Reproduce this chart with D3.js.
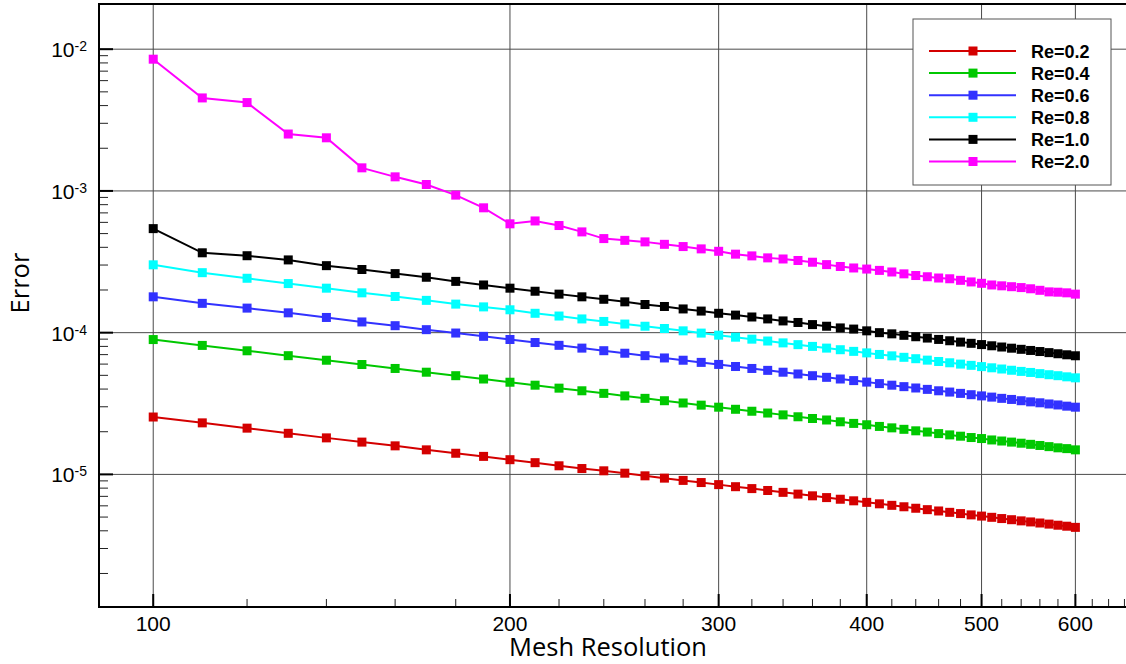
<!DOCTYPE html>
<html>
<head>
<meta charset="UTF-8">
<script src="https://d3js.org/d3.v7.min.js"></script>
<title>Error vs Mesh Resolution</title>
<style>
  body { margin: 0; background: #fff; }
  text { font-family: "Liberation Sans", Arial, sans-serif; }
</style>
</head>
<body>
<div id="container"></div>
<script>
// data
var meshSizes = [100,110,120,130,140,150,160,170,180,190,200,210,220,230,240,250,260,270,280,290,300,
  310,320,330,340,350,360,370,380,390,400,410,420,430,440,450,460,470,480,490,500,
  510,520,530,540,550,560,570,580,590,600];

var seriesNames = ["Re=0.2","Re=0.4","Re=0.6","Re=0.8","Re=1.0","Re=2.0"];
var seriesColors = ["#d40000","#00c800","#3232ff","#00ffff","#000000","#ff00ff"];

var errRe02 = [2.54e-5,2.31e-5,2.12e-5,1.95e-5,1.81e-5,1.69e-5,1.59e-5,1.49e-5,1.41e-5,1.34e-5,1.27e-5,
  1.21e-5,1.15e-5,1.10e-5,1.06e-5,1.02e-5,9.77e-6,9.41e-6,9.07e-6,8.76e-6,8.47e-6,
  8.19e-6,7.94e-6,7.70e-6,7.47e-6,7.26e-6,7.06e-6,6.86e-6,6.68e-6,6.51e-6,6.35e-6,
  6.20e-6,6.05e-6,5.91e-6,5.77e-6,5.64e-6,5.52e-6,5.40e-6,5.29e-6,5.18e-6,5.08e-6,
  4.98e-6,4.88e-6,4.79e-6,4.70e-6,4.62e-6,4.54e-6,4.46e-6,4.38e-6,4.31e-6,4.23e-6];
var errRe04 = [8.94e-5,8.13e-5,7.45e-5,6.88e-5,6.39e-5,5.96e-5,5.59e-5,5.26e-5,4.97e-5,4.71e-5,4.47e-5,
  4.26e-5,4.06e-5,3.89e-5,3.73e-5,3.58e-5,3.44e-5,3.31e-5,3.19e-5,3.08e-5,2.98e-5,
  2.88e-5,2.79e-5,2.71e-5,2.63e-5,2.55e-5,2.48e-5,2.42e-5,2.35e-5,2.29e-5,2.24e-5,
  2.18e-5,2.13e-5,2.08e-5,2.03e-5,1.99e-5,1.94e-5,1.90e-5,1.86e-5,1.82e-5,1.79e-5,
  1.75e-5,1.72e-5,1.69e-5,1.66e-5,1.63e-5,1.60e-5,1.57e-5,1.54e-5,1.52e-5,1.49e-5];
var errRe06 = [1.79e-4,1.61e-4,1.49e-4,1.38e-4,1.28e-4,1.19e-4,1.12e-4,1.05e-4,9.94e-5,9.42e-5,8.95e-5,
  8.52e-5,8.14e-5,7.78e-5,7.46e-5,7.16e-5,6.88e-5,6.63e-5,6.39e-5,6.17e-5,5.97e-5,
  5.77e-5,5.59e-5,5.42e-5,5.26e-5,5.11e-5,4.97e-5,4.84e-5,4.71e-5,4.59e-5,4.48e-5,
  4.37e-5,4.26e-5,4.16e-5,4.07e-5,3.98e-5,3.89e-5,3.81e-5,3.73e-5,3.65e-5,3.58e-5,
  3.51e-5,3.44e-5,3.38e-5,3.31e-5,3.25e-5,3.20e-5,3.14e-5,3.09e-5,3.03e-5,2.98e-5];
var errRe08 = [3.01e-4,2.65e-4,2.42e-4,2.22e-4,2.06e-4,1.91e-4,1.80e-4,1.69e-4,1.59e-4,1.52e-4,1.45e-4,
  1.37e-4,1.31e-4,1.25e-4,1.20e-4,1.15e-4,1.11e-4,1.07e-4,1.03e-4,9.93e-5,9.60e-5,
  9.29e-5,9.00e-5,8.73e-5,8.47e-5,8.23e-5,8.00e-5,7.78e-5,7.58e-5,7.38e-5,7.20e-5,
  7.02e-5,6.86e-5,6.70e-5,6.55e-5,6.40e-5,6.26e-5,6.13e-5,6.00e-5,5.88e-5,5.76e-5,
  5.65e-5,5.54e-5,5.43e-5,5.33e-5,5.24e-5,5.14e-5,5.05e-5,4.97e-5,4.88e-5,4.80e-5];
var errRe10 = [5.42e-4,3.66e-4,3.49e-4,3.26e-4,2.97e-4,2.79e-4,2.61e-4,2.46e-4,2.30e-4,2.17e-4,2.06e-4,
  1.96e-4,1.87e-4,1.79e-4,1.72e-4,1.65e-4,1.58e-4,1.53e-4,1.47e-4,1.42e-4,1.37e-4,
  1.33e-4,1.29e-4,1.25e-4,1.21e-4,1.18e-4,1.14e-4,1.11e-4,1.08e-4,1.06e-4,1.03e-4,
  1.00e-4,9.81e-5,9.58e-5,9.36e-5,9.16e-5,8.96e-5,8.77e-5,8.58e-5,8.41e-5,8.24e-5,
  8.08e-5,7.92e-5,7.77e-5,7.63e-5,7.49e-5,7.36e-5,7.23e-5,7.10e-5,6.98e-5,6.87e-5];
var errRe20 = [8.50e-3,4.53e-3,4.20e-3,2.52e-3,2.37e-3,1.455e-3,1.257e-3,1.11e-3,9.34e-4,7.60e-4,5.86e-4,
  6.14e-4,5.70e-4,5.14e-4,4.61e-4,4.48e-4,4.37e-4,4.20e-4,4.05e-4,3.90e-4,3.75e-4,
  3.58e-4,3.48e-4,3.37e-4,3.31e-4,3.23e-4,3.14e-4,3.02e-4,2.93e-4,2.86e-4,2.81e-4,
  2.75e-4,2.68e-4,2.60e-4,2.53e-4,2.48e-4,2.43e-4,2.40e-4,2.34e-4,2.28e-4,2.23e-4,
  2.17e-4,2.14e-4,2.11e-4,2.08e-4,2.04e-4,1.99e-4,1.94e-4,1.93e-4,1.91e-4,1.87e-4];

var xTickValues = [100,200,300,400,500,600];
var yTickExponents = [-2,-3,-4,-5];

var allSeries = [errRe02,errRe04,errRe06,errRe08,errRe10,errRe20];

var svgW = 1126, svgH = 664,
    plotL = 99, plotR = 1126, plotT = 5, plotB = 607;

var x = d3.scaleLog().domain([90, 662]).range([plotL, plotR]);
var y = d3.scaleLog().domain([1.16e-6, 2.05e-2]).range([plotB, plotT]);

var svg = d3.select("#container").append("svg")
  .attr("width", svgW).attr("height", svgH);

// grid lines
svg.append("g").selectAll("line").data(xTickValues).enter().append("line")
  .attr("x1", function(d){ return x(d); }).attr("x2", function(d){ return x(d); })
  .attr("y1", plotT).attr("y2", plotB)
  .attr("stroke", "#4a4a4a").attr("stroke-width", 1);
svg.append("g").selectAll("line").data(yTickExponents).enter().append("line")
  .attr("x1", plotL).attr("x2", plotR)
  .attr("y1", function(d){ return y(Math.pow(10, d)); })
  .attr("y2", function(d){ return y(Math.pow(10, d)); })
  .attr("stroke", "#4a4a4a").attr("stroke-width", 1);

// minor ticks
var xMinor = x.ticks(40).filter(function(d){ return d % 20 === 0 && d % 100 !== 0 && x(d) > plotL + 2 && x(d) < plotR - 1; });
var yMinor = y.ticks().filter(function(d){
  var m = Math.round(d / Math.pow(10, Math.floor(Math.log10(d) + 1e-9)));
  return m !== 1 && y(d) > plotT + 3 && y(d) < plotB - 3;
});

svg.append("g").selectAll("line").data(xMinor).enter().append("line")
  .attr("x1", function(d){ return x(d); }).attr("x2", function(d){ return x(d); })
  .attr("y1", plotB).attr("y2", plotB - 8)
  .attr("stroke", "#222").attr("stroke-width", 1);
svg.append("g").selectAll("line").data(xTickValues).enter().append("line")
  .attr("x1", function(d){ return x(d); }).attr("x2", function(d){ return x(d); })
  .attr("y1", plotB).attr("y2", plotB - 13)
  .attr("stroke", "#000").attr("stroke-width", 2);
svg.append("g").selectAll("line").data(yMinor).enter().append("line")
  .attr("x1", plotL).attr("x2", plotL + 9)
  .attr("y1", function(d){ return y(d); }).attr("y2", function(d){ return y(d); })
  .attr("stroke", "#222").attr("stroke-width", 1);
svg.append("g").selectAll("line").data(yTickExponents).enter().append("line")
  .attr("x1", plotL).attr("x2", plotL + 14)
  .attr("y1", function(d){ return y(Math.pow(10, d)); })
  .attr("y2", function(d){ return y(Math.pow(10, d)); })
  .attr("stroke", "#000").attr("stroke-width", 2);

// series
var line = d3.line()
  .x(function(d, i){ return x(meshSizes[i]); })
  .y(function(d){ return y(d); });

var ms = 9;
allSeries.forEach(function(vals, k){
  var g = svg.append("g");
  g.append("path").datum(vals)
    .attr("d", line)
    .attr("fill", "none")
    .attr("stroke", seriesColors[k])
    .attr("stroke-width", 2);
  g.selectAll("rect").data(vals).enter().append("rect")
    .attr("x", function(d, i){ return x(meshSizes[i]) - ms / 2; })
    .attr("y", function(d){ return y(d) - ms / 2; })
    .attr("width", ms).attr("height", ms)
    .attr("fill", seriesColors[k]);
});

// frame: left, bottom, top
svg.append("line").attr("x1", plotL).attr("x2", plotL).attr("y1", plotT - 1).attr("y2", plotB + 1)
  .attr("stroke", "#000").attr("stroke-width", 2);
svg.append("line").attr("x1", plotL - 1).attr("x2", plotR).attr("y1", plotB).attr("y2", plotB)
  .attr("stroke", "#000").attr("stroke-width", 2);
svg.append("line").attr("x1", plotL - 1).attr("x2", plotR).attr("y1", plotT - 1).attr("y2", plotT - 1)
  .attr("stroke", "#000").attr("stroke-width", 2);

// tick labels
svg.append("g").selectAll("text").data(xTickValues).enter().append("text")
  .attr("x", function(d){ return x(d); })
  .attr("y", 631)
  .attr("text-anchor", "middle")
  .attr("font-size", 21)
  .text(function(d){ return d; });

var yLab = svg.append("g").selectAll("text").data(yTickExponents).enter().append("text")
  .attr("x", 87)
  .attr("y", function(d){ return y(Math.pow(10, d)) + 8; })
  .attr("text-anchor", "end")
  .attr("font-size", 21);
yLab.append("tspan").text("10");
yLab.append("tspan").attr("dy", -6).attr("font-size", 14).text(function(d){ return d; });

// axis titles
svg.append("text")
  .attr("x", 608).attr("y", 656)
  .attr("text-anchor", "middle")
  .style("font-family", "'Open Sans', sans-serif")
  .attr("font-size", 25.5)
  .text("Mesh Resolution");
svg.append("text")
  .attr("transform", "translate(29,283) rotate(-90)")
  .attr("text-anchor", "middle")
  .style("font-family", "'Open Sans', sans-serif")
  .attr("font-size", 25.5)
  .text("Error");

// legend
var legend = svg.append("g");
legend.append("rect")
  .attr("x", 913).attr("y", 19).attr("width", 198).attr("height", 166)
  .attr("fill", "#fff").attr("stroke", "#555").attr("stroke-width", 1);
var item = legend.selectAll("g").data(seriesNames).enter().append("g")
  .attr("transform", function(d, i){ return "translate(0," + (51 + i * 22.1) + ")"; });
item.append("line")
  .attr("x1", 929).attr("x2", 1016).attr("y1", 0).attr("y2", 0)
  .attr("stroke", function(d, i){ return seriesColors[i]; })
  .attr("stroke-width", 2);
item.append("rect")
  .attr("x", 973 - ms / 2).attr("y", -ms / 2).attr("width", ms).attr("height", ms)
  .attr("fill", function(d, i){ return seriesColors[i]; });
item.append("text")
  .attr("x", 1031).attr("y", 6.5)
  .attr("font-size", 18).attr("font-weight", "bold")
  .text(function(d){ return d; });
</script>
</body>
</html>
